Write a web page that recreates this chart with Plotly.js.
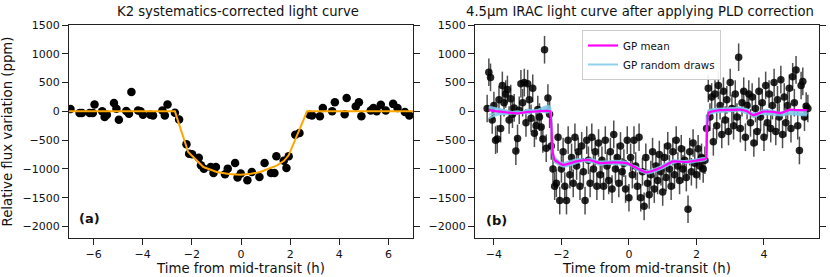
<!DOCTYPE html>
<html>
<head>
<meta charset="utf-8">
<script src="https://cdn.plot.ly/plotly-3.0.1.min.js"></script>
<style>html,body{margin:0;padding:0;background:#fff;}#chart{width:830px;height:277px;}</style>
</head>
<body>
<div id="chart"></div>
<script>
// ---- Panel (a): K2 light curve ----
const k2_t = [-6.94,-6.57,-6.47,-6.16,-6.03,-5.96,-5.65,-5.55,-5.46,-5.17,-5.07,-4.97,-4.67,-4.56,-4.46,-4.19,-4.09,-3.99,-3.69,-3.58,-3.20,-3.10,-2.99,-2.69,-2.52,-2.22,-2.11,-1.99,-1.72,-1.63,-1.51,-1.23,-1.12,-1.02,-0.65,-0.54,-0.24,-0.14,-0.01,0.26,0.44,0.75,0.96,1.22,1.36,1.44,1.74,1.85,1.94,2.21,2.38,2.79,2.89,3.21,3.33,3.71,3.82,4.22,4.30,4.67,4.80,4.90,5.28,5.39,5.52,5.69,5.89,6.19,6.37,6.67,6.85];
const k2_f = [40,-30,-30,-30,-30,120,0,-100,-60,145,45,-145,5,-40,335,15,0,-60,-60,-70,15,-70,120,-25,-140,-570,-735,-745,-805,-935,-995,-965,-1070,-965,-1093,-995,-896,-1150,-1080,-1197,-1053,-1140,-896,-1070,-1070,-780,-860,-985,-780,-405,-376,-60,-70,-85,60,0,160,-50,230,85,160,-85,15,60,0,115,15,130,60,-10,-70];
const k2_model_t = [-7,-2.69,-2.15,-1.9,-1.53,-0.99,-0.5,-0.03,0.4,0.78,1.1,1.47,1.75,1.94,2.69,7];
const k2_model_f = [0,0,-706,-810,-967,-1053,-1090,-1100,-1085,-1053,-1005,-938,-860,-764,0,0];

// ---- Panel (b): IRAC 4.5um light curve ----
const irac_t = [-4.20,-4.15,-4.10,-4.05,-4.00,-3.95,-3.90,-3.85,-3.80,-3.75,-3.70,-3.65,-3.60,-3.55,-3.50,-3.45,-3.40,-3.35,-3.30,-3.25,-3.20,-3.15,-3.10,-3.05,-3.00,-2.95,-2.90,-2.85,-2.80,-2.75,-2.70,-2.65,-2.60,-2.55,-2.50,-2.45,-2.40,-2.35,
-2.30,-2.25,-2.20,-2.15,-2.10,-2.05,-2.00,-1.95,-1.90,-1.85,-1.80,-1.75,-1.70,-1.65,-1.60,-1.55,-1.50,-1.45,-1.40,-1.35,-1.30,-1.25,-1.20,-1.15,-1.10,-1.05,-1.00,-0.95,-0.90,-0.85,-0.80,-0.75,-0.70,-0.65,-0.60,-0.55,-0.50,-0.45,-0.40,-0.35,-0.30,-0.25,-0.20,-0.15,-0.10,-0.05,0.00,0.05,0.10,0.15,0.20,0.25,0.30,0.35,0.40,0.45,0.50,0.55,0.60,0.65,0.70,0.75,0.80,0.85,0.90,0.95,1.00,1.05,1.10,1.15,1.20,1.25,1.30,1.35,1.40,1.45,1.50,1.55,1.60,1.65,1.70,1.75,1.80,1.85,1.90,1.95,2.00,2.05,2.10,2.15,2.20,2.25,
2.30,2.35,2.40,2.45,2.50,2.55,2.60,2.65,2.70,2.75,2.80,2.85,2.90,2.95,3.00,3.05,3.10,3.15,3.20,3.25,3.30,3.35,3.40,3.45,3.50,3.55,3.60,3.65,3.70,3.75,3.80,3.85,3.90,3.95,4.00,4.05,4.10,4.15,4.20,4.25,4.30,4.35,4.40,4.45,4.50,4.55,4.60,4.65,4.70,4.75,4.80,4.85,4.90,4.95,5.00,5.05,5.10,5.15,5.20,5.25,5.30];
const irac_f = [50,680,590,-150,100,-500,-480,200,-300,450,150,300,380,-150,220,-50,60,-690,-470,20,480,150,500,-200,480,200,-120,400,-380,-250,30,-100,-270,-480,1070,-640,230,-50,
-600,-1000,-1300,-1250,-450,-1550,-1000,-700,-1300,-1550,-500,-1100,-800,-1250,-450,-950,-700,-1300,-600,-1050,-1550,-500,-850,-1250,-450,-1000,-700,-1300,-550,-1100,-850,-1300,-500,-950,-1200,-700,-1350,-400,-1000,-800,-1250,-600,-1050,-900,-1350,-500,-1500,-800,-1100,-500,-950,-1300,-450,-1500,-1050,-1650,-800,-1250,-1450,-1100,-700,-1350,-950,-1200,-750,-1050,-1400,-800,-1150,-600,-1000,-1300,-700,-1100,-500,-950,-1200,-650,-1000,-850,-1150,-1700,-700,-1050,-550,-900,-1100,-650,-950,-800,-1000,-850,
-300,400,-100,250,-530,300,-250,450,100,-400,350,-150,200,-350,500,50,-250,300,-100,940,-300,150,350,-450,100,300,-200,250,-550,50,-350,350,-100,150,-450,450,-200,300,-300,100,500,-350,200,-100,550,-400,250,-200,100,400,-300,600,150,720,-250,-680,450,520,-100,90,50];
const irac_err = 240;

const gp_t = [-4.15,-3.9,-3.6,-3.3,-3.0,-2.7,-2.45,-2.34,-2.26,-2.2,-1.95,-1.55,-1.16,-0.86,-0.46,-0.07,0.23,0.52,0.92,1.31,1.71,2.2,2.28,2.36,2.7,3.0,3.29,3.5,3.68,3.98,4.28,4.5,4.77,5.0,5.27];
const gp_mean = [20,0,-20,-35,-10,0,10,0,-700,-845,-930,-870,-845,-900,-885,-900,-985,-1060,-985,-870,-880,-835,-820,-25,20,25,30,0,-65,-5,-10,-30,30,20,20];
const gp_draw1 = [60,40,10,-50,30,-20,60,40,-700,-820,-900,-830,-860,-930,-860,-880,-1000,-1040,-960,-850,-870,-810,-800,0,50,40,70,20,-80,20,10,-40,10,0,-10];
const gp_draw2 = [-120,-60,-30,0,-40,20,-20,-10,-720,-880,-960,-900,-820,-880,-920,-930,-960,-1080,-1010,-900,-860,-860,-840,-60,-10,0,10,-40,-30,-50,-60,-70,-50,-60,-70];
const gp_draw3 = [80,50,0,-20,10,30,90,80,-680,-800,-920,-850,-880,-870,-870,-880,-1010,-1070,-970,-860,-900,-840,-810,20,30,60,50,40,-100,-20,-30,-20,0,-30,-40];
const gp_draw4 = [-60,-30,-50,-30,0,0,40,20,-710,-860,-950,-880,-840,-910,-900,-900,-970,-1050,-1000,-880,-870,-820,-830,-40,0,10,30,-10,-50,-40,-20,-50,-30,-50,-50];

const titles = ["K2 systematics-corrected light curve", "4.5\u03bcm IRAC light curve after applying PLD correction"];
const xTitle = "Time from mid-transit (h)";
const yTitle = "Relative flux variation (ppm)";
const panelLabels = ["(a)", "(b)"];
const legendNames = ["GP mean", "GP random draws"];

const FONT = "DejaVu Sans, sans-serif";
const drawColor = "rgba(125,200,232,0.85)";

const traces = [
  {x: k2_t, y: k2_f, type: "scatter", mode: "markers", xaxis: "x", yaxis: "y",
   marker: {color: "#000", size: 8.5}, showlegend: false, hoverinfo: "skip"},
  {x: k2_model_t, y: k2_model_f, type: "scatter", mode: "lines", xaxis: "x", yaxis: "y",
   line: {color: "#ffa500", width: 2}, showlegend: false},
  {x: irac_t, y: irac_f, type: "scatter", mode: "markers", xaxis: "x2", yaxis: "y2",
   marker: {color: "rgba(0,0,0,0.85)", size: 7.5},
   error_y: {type: "constant", value: irac_err, color: "rgba(20,20,20,0.75)", thickness: 1.5, width: 0},
   showlegend: false},
];
[gp_draw1, gp_draw2, gp_draw3, gp_draw4].forEach((d, i) => {
  traces.push({x: gp_t, y: d, type: "scatter", mode: "lines", xaxis: "x2", yaxis: "y2",
    line: {color: drawColor, width: 2, shape: "spline", smoothing: 0.6},
    name: legendNames[1], showlegend: i === 0, legendrank: 2});
});
traces.push({x: gp_t, y: gp_mean, type: "scatter", mode: "lines", xaxis: "x2", yaxis: "y2",
  line: {color: "#ff00ff", width: 2.2, shape: "spline", smoothing: 0.4},
  name: legendNames[0], showlegend: true, legendrank: 1});

const axisCommon = {
  showline: true, linecolor: "#222", linewidth: 1, ticks: "outside", ticklen: 6, tickwidth: 1,
  tickcolor: "#222", showgrid: false, zeroline: false,
  tickfont: {family: FONT, size: 11, color: "#111"}
};
const yDomain = [1 - 238/277, 1 - 25/277];

const layout = {
  width: 830, height: 277,
  margin: {l: 0, r: 0, t: 0, b: 0},
  paper_bgcolor: "#fff", plot_bgcolor: "#fff",
  font: {family: FONT, size: 11, color: "#111"},
  xaxis: Object.assign({}, axisCommon, {domain: [69/830, 413/830], range: [-7, 7], mirror: true,
    tickvals: [-6,-4,-2,0,2,4,6], anchor: "y",
    title: {text: xTitle, font: {family: FONT, size: 13.3}, standoff: 3}}),
  yaxis: Object.assign({}, axisCommon, {domain: yDomain, range: [-2200, 1500], mirror: "ticks",
    tickvals: [-2000,-1500,-1000,-500,0,500,1000,1500], anchor: "x",
    title: {text: yTitle, font: {family: FONT, size: 13.3}, standoff: 6}}),
  xaxis2: Object.assign({}, axisCommon, {domain: [475/830, 819/830], range: [-4.56, 5.63], mirror: true,
    tickvals: [-4,-2,0,2,4], anchor: "y2",
    title: {text: xTitle, font: {family: FONT, size: 13.3}, standoff: 3}}),
  yaxis2: Object.assign({}, axisCommon, {domain: yDomain, range: [-2200, 1500], mirror: "ticks",
    tickvals: [-2000,-1500,-1000,-500,0,500,1000,1500], anchor: "x2"}),
  legend: {x: 582/830, y: 1 - 30/277, xanchor: "left", yanchor: "top", bgcolor: "rgba(255,255,255,0.9)",
    bordercolor: "#ccc", borderwidth: 1, font: {family: FONT, size: 10.3}, itemwidth: 30,
    tracegroupgap: 0},
  annotations: [
    {text: titles[0], xref: "paper", yref: "paper", x: 238/830, y: 1 - 12/277, xanchor: "center", yanchor: "middle",
     showarrow: false, font: {family: FONT, size: 13.2, color: "#111"}},
    {text: titles[1], xref: "paper", yref: "paper", x: 639.5/830, y: 1 - 12/277, xanchor: "center", yanchor: "middle",
     showarrow: false, font: {family: FONT, size: 13.2, color: "#111"}},
    {text: "<b>" + panelLabels[0] + "</b>", xref: "paper", yref: "paper", x: 89/830, y: 1 - 218/277,
     xanchor: "center", yanchor: "middle", showarrow: false, font: {family: FONT, size: 13, color: "#111"}},
    {text: "<b>" + panelLabels[1] + "</b>", xref: "paper", yref: "paper", x: 496/830, y: 1 - 220/277,
     xanchor: "center", yanchor: "middle", showarrow: false, font: {family: FONT, size: 13, color: "#111"}}
  ]
};

Plotly.newPlot("chart", traces, layout, {displayModeBar: false, staticPlot: true});
</script>
</body>
</html>
